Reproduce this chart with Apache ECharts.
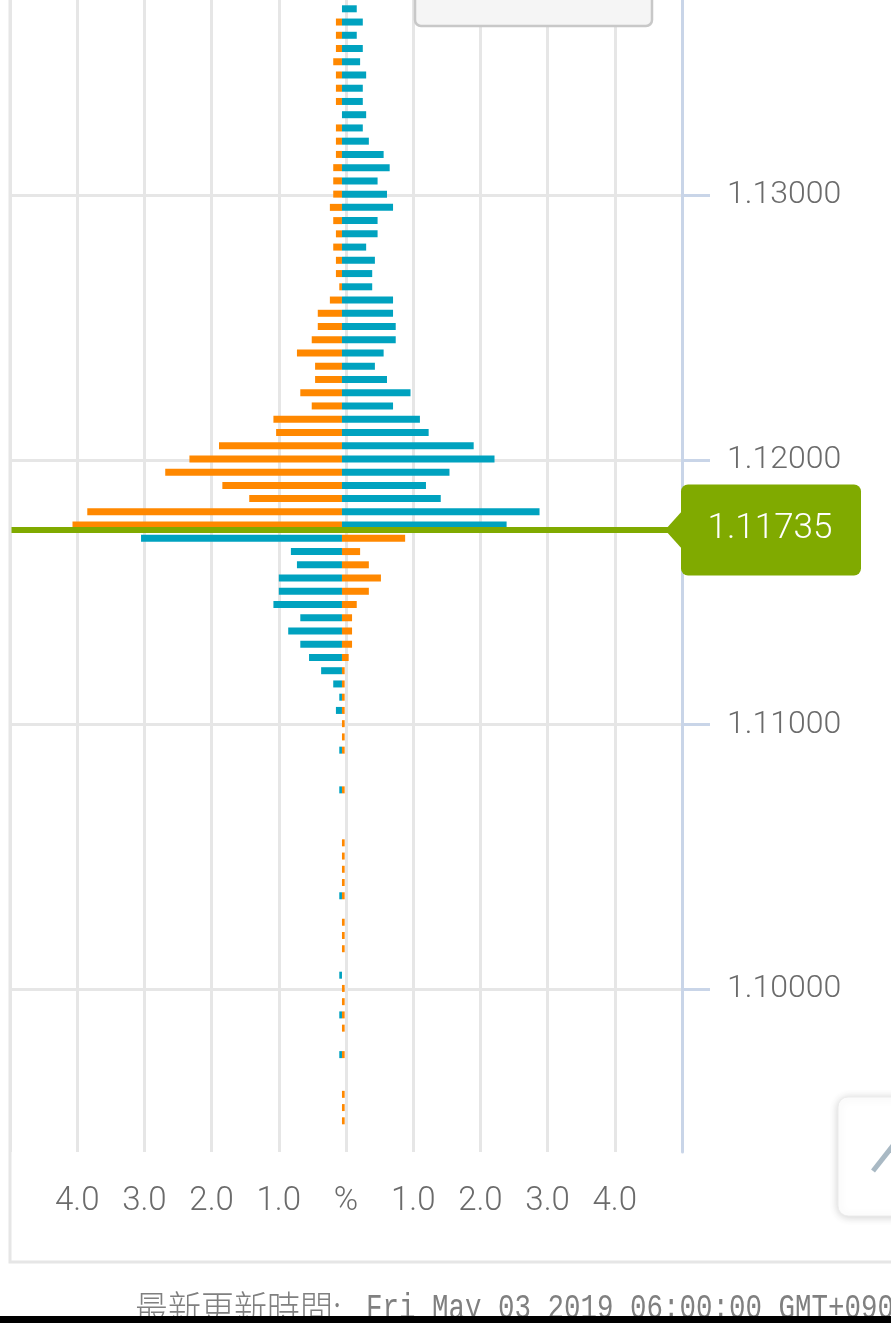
<!DOCTYPE html>
<html>
<head>
<meta charset="utf-8">
<script src="https://cdn.jsdelivr.net/npm/echarts@6/dist/echarts.min.js"></script>
<style>
  html, body { margin: 0; padding: 0; background: #ffffff; }
  #chart { width: 891px; height: 1323px; }
</style>
</head>
<body>
<div id="chart"></div>
<script>
// ---- data ----
const currentPrice = 1.11735;

const priceLevels = [
  1.1370, 1.1365, 1.1360, 1.1355, 1.1350, 1.1345, 1.1340, 1.1335, 1.1330, 1.1325,
  1.1320, 1.1315, 1.1310, 1.1305, 1.1300, 1.1295, 1.1290, 1.1285, 1.1280, 1.1275,
  1.1270, 1.1265, 1.1260, 1.1255, 1.1250, 1.1245, 1.1240, 1.1235, 1.1230, 1.1225,
  1.1220, 1.1215, 1.1210, 1.1205, 1.1200, 1.1195, 1.1190, 1.1185, 1.1180, 1.1175,
  1.1170, 1.1165, 1.1160, 1.1155, 1.1150, 1.1145, 1.1140, 1.1135, 1.1130, 1.1125,
  1.1120, 1.1115, 1.1110, 1.1105, 1.1100, 1.1095, 1.1090, 1.1085, 1.1080, 1.1075,
  1.1070, 1.1065, 1.1060, 1.1055, 1.1050, 1.1045, 1.1040, 1.1035, 1.1030, 1.1025,
  1.1020, 1.1015, 1.1010, 1.1005, 1.1000, 1.0995, 1.0990, 1.0985, 1.0980, 1.0975,
  1.0970, 1.0965, 1.0960, 1.0955, 1.0950
];

// orange series (%)
const orangePct = [
  0.00, 0.09, 0.09, 0.09, 0.13, 0.09, 0.09, 0.09, 0.00, 0.09,
  0.09, 0.09, 0.13, 0.13, 0.13, 0.18, 0.13, 0.09, 0.13, 0.09,
  0.09, 0.04, 0.18, 0.36, 0.36, 0.45, 0.67, 0.40, 0.40, 0.62,
  0.45, 1.02, 0.98, 1.83, 2.27, 2.63, 1.78, 1.38, 3.79, 4.01,
  0.94, 0.27, 0.40, 0.58, 0.40, 0.22, 0.15, 0.15, 0.15, 0.10,
  0.04, 0.04, 0.04, 0.04, 0.04, 0.04, 0.04, 0.00, 0.00, 0.04,
  0.00, 0.00, 0.00, 0.04, 0.04, 0.04, 0.04, 0.04, 0.00, 0.04,
  0.04, 0.04, 0.00, 0.00, 0.04, 0.04, 0.04, 0.04, 0.00, 0.04,
  0.00, 0.00, 0.04, 0.04, 0.04
];

// teal series (%)
const tealPct = [
  0.22, 0.31, 0.22, 0.31, 0.27, 0.36, 0.31, 0.31, 0.36, 0.31,
  0.40, 0.62, 0.71, 0.53, 0.67, 0.76, 0.53, 0.53, 0.36, 0.49,
  0.45, 0.45, 0.76, 0.76, 0.80, 0.80, 0.62, 0.49, 0.67, 1.02,
  0.76, 1.16, 1.29, 1.96, 2.27, 1.60, 1.25, 1.47, 2.94, 2.45,
  2.99, 0.76, 0.67, 0.94, 0.94, 1.02, 0.62, 0.80, 0.62, 0.49,
  0.31, 0.13, 0.04, 0.09, 0.00, 0.00, 0.04, 0.00, 0.00, 0.04,
  0.00, 0.00, 0.00, 0.00, 0.00, 0.00, 0.00, 0.04, 0.00, 0.00,
  0.00, 0.00, 0.00, 0.04, 0.00, 0.00, 0.04, 0.00, 0.00, 0.04,
  0.00, 0.00, 0.00, 0.00, 0.00
];

const priceTicks = [1.10, 1.11, 1.12, 1.13];
const pctTicks = [-5, -4, -3, -2, -1, 0, 1, 2, 3, 4, 5];
const pctTickLabels = ['', '4.0', '3.0', '2.0', '1.0', '%', '1.0', '2.0', '3.0', '4.0', ''];

const footerLabel = '最新更新時間:';
const footerTime = 'Fri May 03 2019 06:00:00 GMT+0900';

// ---- style ----
const ORANGE = '#ff8800';
const TEAL = '#00a2bf';
const GREEN = '#80aa00';
const GRID_COLOR = '#e6e6e6';
const AXIS_BLUE = '#c9d5e8';
const LABEL_GRAY = '#6b6b6b';

const rows = priceLevels.map((p, i) => [p, orangePct[i], tealPct[i]]);

const chart = echarts.init(document.getElementById('chart'), null, { renderer: 'canvas' });

function renderBars(params, api) {
  const price = api.value(0);
  const o = api.value(1);
  const t = api.value(2);
  const above = price > currentPrice;
  const oSign = above ? -1 : 1;
  const tSign = -oSign;
  const zero = api.coord([0, price]);
  const oEnd = api.coord([oSign * o, price]);
  const tEnd = api.coord([tSign * t, price]);
  const h = 7;
  const yTop = zero[1] - h / 2 - 1;
  const children = [];
  if (o > 0) {
    children.push({
      type: 'rect',
      shape: { x: Math.min(zero[0], oEnd[0]), y: yTop, width: Math.abs(oEnd[0] - zero[0]), height: h },
      style: { fill: ORANGE }
    });
  }
  if (t > 0) {
    children.push({
      type: 'rect',
      shape: { x: Math.min(zero[0], tEnd[0]), y: yTop, width: Math.abs(tEnd[0] - zero[0]), height: h },
      style: { fill: TEAL }
    });
  }
  return { type: 'group', children };
}

function renderPriceMarker(params, api) {
  const price = api.value(0);
  const pt = api.coord([0, price]);
  const y = pt[1];
  const left = 10;
  const tipX = 665;
  const boxX = 681, boxW = 180, boxH = 91;
  return {
    type: 'group',
    children: [
      { type: 'rect', shape: { x: left, y: y - 3, width: tipX - left + 6, height: 6 }, style: { fill: GREEN } },
      { type: 'polygon', shape: { points: [[boxX + 2, y - 20], [tipX, y], [boxX + 2, y + 20]] }, style: { fill: GREEN } },
      { type: 'rect', shape: { x: boxX, y: y - boxH / 2, width: boxW, height: boxH, r: 7 }, style: { fill: GREEN } },
      {
        type: 'text',
        x: boxX + boxW / 2 - 1, y: y - 1,
        style: {
          text: price.toFixed(5),
          fill: '#ffffff',
          font: '300 35px Roboto, "Noto Sans", sans-serif',
          align: 'center',
          verticalAlign: 'middle'
        }
      }
    ]
  };
}

const option = {
  backgroundColor: '#ffffff',
  animation: false,
  grid: { left: 10, right: 209, top: 0, bottom: 171, containLabel: false },
  xAxis: [
    {
      type: 'value',
      min: -5, max: 5, interval: 1,
      axisLine: { show: false },
      axisTick: { show: false },
      splitLine: { show: true, lineStyle: { color: GRID_COLOR, width: 3 } },
      axisLabel: {
        margin: 33,
        fontSize: 33,
        fontFamily: 'Roboto',
        fontWeight: 300,
        color: LABEL_GRAY,
        formatter: (v) => {
          const idx = pctTicks.indexOf(Math.round(v));
          return idx >= 0 ? pctTickLabels[idx] : '';
        }
      }
    },
    {
      type: 'value',
      show: false,
      min: -4.94, max: 5.06,
      splitLine: { show: false }
    }
  ],
  yAxis: [
    {
      type: 'value',
      position: 'right',
      min: 1.09386,
      max: 1.13737,
      splitNumber: 4,
      axisLine: { show: true, onZero: false, lineStyle: { color: AXIS_BLUE, width: 3 } },
      axisTick: { show: true, length: 28, lineStyle: { color: AXIS_BLUE, width: 3 }, customValues: priceTicks },
      axisLabel: {
        show: true,
        customValues: priceTicks,
        margin: 45,
        fontSize: 32,
        fontFamily: 'Roboto',
        fontWeight: 300,
        color: LABEL_GRAY,
        padding: [6, 0, 0, 0],
        formatter: (v) => v.toFixed(5)
      },
      splitLine: { show: true, lineStyle: { color: GRID_COLOR, width: 3 } }
    }
  ],
  series: [
    {
      type: 'custom',
      name: 'book',
      xAxisIndex: 1,
      yAxisIndex: 0,
      renderItem: renderBars,
      encode: { x: [1, 2], y: 0 },
      data: rows,
      z: 3,
      silent: true
    },
    {
      type: 'custom',
      name: 'price',
      xAxisIndex: 0,
      yAxisIndex: 0,
      renderItem: renderPriceMarker,
      encode: { y: 0 },
      data: [[currentPrice]],
      clip: false,
      z: 10,
      silent: true
    }
  ],
  graphic: [
    // outer container border
    { type: 'polyline', z: 50, shape: { points: [[10, 0], [10, 1262], [900, 1262]] }, style: { stroke: GRID_COLOR, lineWidth: 3, fill: null } },
    // top box (partially visible)
    { type: 'rect', z: 60, shape: { x: 415, y: -20, width: 237, height: 46, r: 6 }, style: { fill: '#f5f5f5', stroke: '#c8c8c8', lineWidth: 2.5 } },
    // right-side button
    { type: 'rect', z: 60, shape: { x: 838, y: 1097, width: 80, height: 119, r: 10 }, style: { fill: '#ffffff', stroke: '#ececec', lineWidth: 1, shadowBlur: 8, shadowColor: 'rgba(0,0,0,0.18)', shadowOffsetY: 1 } },
    { type: 'line', z: 61, shape: { x1: 873, y1: 1171, x2: 895, y2: 1143 }, style: { stroke: '#a9b9c4', lineWidth: 5 } },
    // footer text
    { type: 'text', z: 60, x: 135, y: 1290, scaleY: 1.15, style: { text: footerLabel, font: '300 33px "Noto Sans CJK TC", sans-serif', fill: '#808080', verticalAlign: 'top' } },
    { type: 'text', z: 60, x: 366, y: 1290, scaleY: 1.3, style: { text: footerTime, font: '27.5px "Liberation Mono", "DejaVu Sans Mono", monospace', fill: '#808080', verticalAlign: 'top' } },
    // bottom black strip
    { type: 'rect', z: 70, shape: { x: 0, y: 1316, width: 891, height: 7 }, style: { fill: '#000000' } }
  ]
};

chart.setOption(option);
</script>
</body>
</html>
